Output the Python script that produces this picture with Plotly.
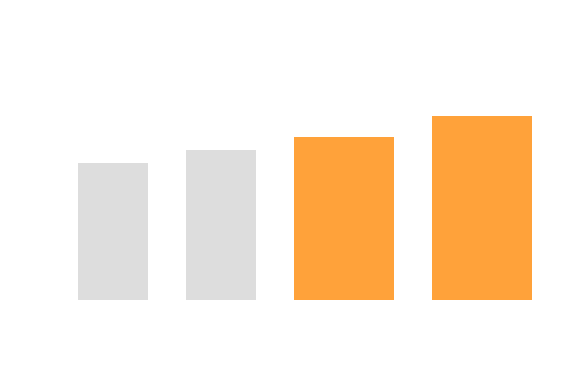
import plotly.graph_objects as go

categories = ["A", "B", "C", "D"]
values = [74.5, 81.5, 88.6, 100.0]
highlight = [False, False, True, True]

# layout helpers (styles / geometry, not data)
bar_widths = [0.7 if not h else 1.0 for h in highlight]
gap = 0.38
centers = []
pos = 0.0
for w in bar_widths:
    centers.append(pos + w / 2)
    pos += w + gap

colors = ["#ffa23a" if h else "#dddddd" for h in highlight]

fig = go.Figure(
    go.Bar(
        x=centers,
        y=values,
        width=bar_widths,
        marker=dict(color=colors, line=dict(width=0)),
        text=categories,
        textposition="none",
        hoverinfo="skip",
    )
)

px_per_x = 100.0
px_per_y = 1.84
left_px = 70   # page adds an 8px body margin
base_px = 292
fig.update_layout(
    width=572,
    height=388,
    margin=dict(l=0, r=0, t=0, b=0),
    paper_bgcolor="white",
    plot_bgcolor="white",
    showlegend=False,
    xaxis=dict(visible=False, range=[-left_px / px_per_x, (572 - left_px) / px_per_x]),
    yaxis=dict(visible=False, range=[-(388 - base_px) / px_per_y, base_px / px_per_y]),
)

fig.write_html("out.html")
